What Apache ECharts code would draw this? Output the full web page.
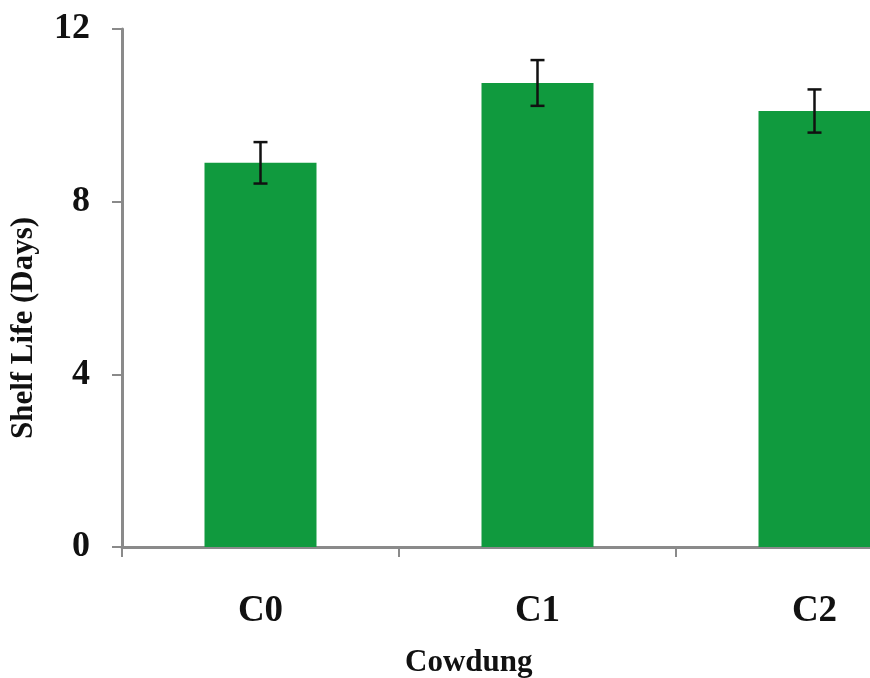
<!DOCTYPE html>
<html><head><meta charset="utf-8">
<script src="https://cdn.jsdelivr.net/npm/echarts@6/dist/echarts.min.js"></script>
<style>html,body{margin:0;padding:0;background:#fff;overflow:hidden;width:870px;height:678px}#c{width:960px;height:678px}</style>
</head><body><div id="c"></div>
<script>
const categories = ['C0', 'C1', 'C2'];
const shelfLife = [8.9, 10.75, 10.1];
const errors = [0.48, 0.53, 0.5];
const yTicks = [0, 4, 8, 12];

const chart = echarts.init(document.getElementById('c'), null, {renderer: 'canvas', width: 960, height: 678});
const font = '"Liberation Serif", "Times New Roman", serif';
const errData = categories.map((c, i) => [i, shelfLife[i] - errors[i], shelfLife[i] + errors[i]]);

chart.setOption({
  backgroundColor: '#fff',
  animation: false,
  grid: {left: 122, top: 29, right: 7, bottom: 131, containLabel: false},
  xAxis: {
    type: 'category', data: categories,
    axisLine: {lineStyle: {color: '#8a8a8a', width: 3}},
    axisTick: {show: true, length: 10, lineStyle: {color: '#8a8a8a', width: 2}},
    axisLabel: {fontFamily: font, fontWeight: 'bold', fontSize: 37, color: '#111', margin: 46, lineHeight: 37}
  },
  yAxis: {
    type: 'value', min: 0, max: 12, interval: 4,
    axisLine: {show: true, lineStyle: {color: '#8a8a8a', width: 3}},
    axisTick: {show: true, length: 10, lineStyle: {color: '#8a8a8a', width: 2}},
    splitLine: {show: false},
    axisLabel: {fontFamily: font, fontWeight: 'bold', fontSize: 36, color: '#111', margin: 32,
      formatter: v => yTicks.includes(v) ? String(v) : ''}
  },
  graphic: [
    {type: 'text', left: 405, top: 647,
      style: {text: 'Cowdung', fontFamily: font, fontWeight: 'bold', fontSize: 31, fill: '#111'}},
    {type: 'text', x: 24, y: 328, rotation: Math.PI / 2,
      style: {text: 'Shelf Life (Days)', fontFamily: font, fontWeight: 'bold', fontSize: 31, fill: '#111',
        align: 'center', verticalAlign: 'middle'}}
  ],
  series: [
    {type: 'bar', data: shelfLife, barWidth: 112,
      itemStyle: {color: '#109a3e'}},
    {type: 'custom', data: errData, z: 10,
      renderItem: function (params, api) {
        const x = api.value(0);
        const lo = api.coord([x, api.value(1)]);
        const hi = api.coord([x, api.value(2)]);
        const w = 7;
        const st = {stroke: '#111', lineWidth: 2.5};
        return {type: 'group', children: [
          {type: 'line', shape: {x1: hi[0], y1: hi[1], x2: lo[0], y2: lo[1]}, style: st},
          {type: 'line', shape: {x1: hi[0] - w, y1: hi[1], x2: hi[0] + w, y2: hi[1]}, style: st},
          {type: 'line', shape: {x1: lo[0] - w, y1: lo[1], x2: lo[0] + w, y2: lo[1]}, style: st}
        ]};
      }}
  ]
});
</script></body></html>
